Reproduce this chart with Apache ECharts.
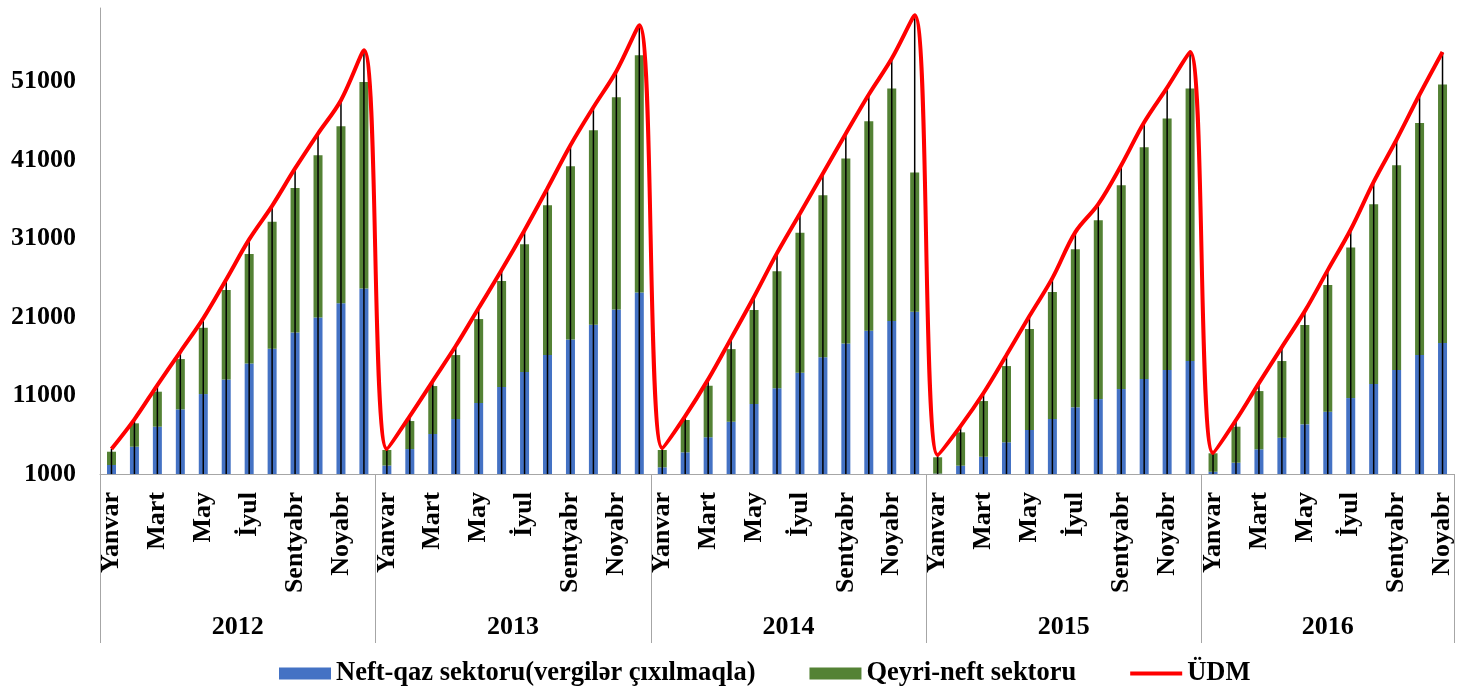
<!DOCTYPE html>
<html>
<head>
<meta charset="utf-8">
<script src="https://cdn.jsdelivr.net/npm/echarts@6/dist/echarts.min.js"></script>
<style>
html,body{margin:0;padding:0;background:#fff;}
#chart{width:1466px;height:689px;}
</style>
</head>
<body>
<div id="chart"></div>
<script>
// ---- data ----
const monthNames = ['Yanvar','Fevral','Mart','Aprel','May','İyun','İyul','Avqust','Sentyabr','Oktyabr','Noyabr','Dekabr'];
const years = ['2012','2013','2014','2015','2016'];
const monthsPerYear = [12,12,12,12,11];

const oilGas = [
  2150,4480,7030,9240,11190,13060,15100,16960,19050,20960,22750,24660,
  2080,4180,6100,8010,10050,12080,13990,16160,18160,20020,21980,24150,
  1850,3760,5680,7660,9920,11920,13900,15870,17650,19260,20490,21680,
  1050,2060,3200,5040,6610,8010,9500,10550,11830,13100,14250,15400,
  1290,2440,4150,5620,7330,8940,10680,12470,14250,16160,17690
];
const nonOil = [
  1690,2980,4460,6410,8450,11380,13930,16180,18420,20680,22590,26320,
  1980,3570,6110,8150,10700,13510,16310,19110,22080,24800,27050,30230,
  2210,4120,6570,9260,11970,14940,17840,20670,23570,26710,29640,17750,
  2080,4250,7100,9720,12860,16180,20160,22810,25990,29560,32060,34730,
  2350,4590,7420,9780,12650,16140,19200,22930,26110,29590,32950
];
const gdp = [
  4190,7970,12340,16580,20840,25800,30900,35180,39950,44400,48650,55020,
  4190,8390,12850,17310,22150,26990,32080,37430,42910,47750,52340,58200,
  4310,8390,13060,18290,23590,29150,34210,39310,44400,49370,53960,59470,
  3420,7110,11320,16160,21130,25970,31830,35400,40360,45840,50260,54800,
  3680,7880,12590,17180,21760,26990,32170,38240,43640,49370,54800
];
const yTicksMin = 1000, yTickStep = 10000, yMax = 60400;

const seriesNames = ['Neft-qaz sektoru(vergilər çıxılmaqla)','Qeyri-neft sektoru','ÜDM'];

// ---- derived ----
const categories = [];
const boundaries = [0];
const yearCenters = [];
let acc = 0;
monthsPerYear.forEach((n, yi) => {
  for (let m = 0; m < n; m++) categories.push(monthNames[m]);
  yearCenters.push(acc + n / 2);
  acc += n;
  boundaries.push(acc);
});
const total = categories.length;

const FONT = "'Liberation Serif','Times New Roman',serif";
const GRAY = '#a6a6a6';

const chart = echarts.init(document.getElementById('chart'));
chart.setOption({
  animation: false,
  backgroundColor: '#fff',
  grid: { left: 100, right: 12, top: 8, bottom: 215, containLabel: false },
  legend: {
    data: [
      { name: seriesNames[0], icon: 'rect' },
      { name: seriesNames[1], icon: 'rect' },
      { name: seriesNames[2], icon: 'path://M0,0 L52,0 L52,4 L0,4 Z', itemStyle: { color: '#FF0000' } }
    ],
    left: 274, top: 655,
    itemWidth: 52, itemHeight: 12, itemGap: 54,
    textStyle: { fontFamily: FONT, fontWeight: 'bold', fontSize: 26.5, color: '#000' }
  },
  xAxis: [
    {
      type: 'category',
      data: categories,
      boundaryGap: true,
      axisLine: { show: true, lineStyle: { color: GRAY, width: 1 } },
      axisTick: { show: false },
      axisLabel: {
        interval: 1, rotate: 90, margin: 18,
        fontFamily: FONT, fontWeight: 'bold', fontSize: 26, color: '#000'
      },
      splitLine: { show: false }
    },
    {
      type: 'value',
      min: 0, max: total,
      position: 'bottom',
      offset: 169,
      axisLine: { show: false },
      splitLine: { show: false },
      axisTick: {
        show: true, inside: true, length: 169,
        customValues: boundaries,
        lineStyle: { color: GRAY, width: 1 }
      },
      axisLabel: {
        show: true, inside: true, margin: 3,
        customValues: yearCenters,
        formatter: function (v) {
          const i = yearCenters.findIndex(c => Math.abs(c - v) < 1e-6);
          return i >= 0 ? years[i] : '';
        },
        fontFamily: FONT, fontWeight: 'bold', fontSize: 26, color: '#000'
      }
    }
  ],
  yAxis: {
    type: 'value',
    min: yTicksMin, max: yMax, interval: yTickStep,
    axisLine: { show: true, lineStyle: { color: GRAY, width: 1 } },
    axisTick: { show: false },
    splitLine: { show: false },
    axisLabel: {
      showMaxLabel: false, margin: 24,
      formatter: function (v) { return String(Math.round(v)); },
      fontFamily: FONT, fontWeight: 'bold', fontSize: 26, color: '#000'
    }
  },
  series: [
    {
      name: seriesNames[0], type: 'bar', stack: 'tot', xAxisIndex: 0,
      data: oilGas, barWidth: 9,
      itemStyle: { color: '#4472C4' }, z: 2
    },
    {
      name: seriesNames[1], type: 'bar', stack: 'tot', xAxisIndex: 0,
      data: nonOil, barWidth: 9,
      itemStyle: { color: '#548235' }, z: 2
    },
    {
      name: 'whisker', type: 'custom', xAxisIndex: 0,
      data: gdp.map((v, i) => [i, v]),
      encode: { x: 0, y: 1 },
      renderItem: function (params, api) {
        const top = api.coord([api.value(0), api.value(1)]);
        const bot = api.coord([api.value(0), yTicksMin]);
        return {
          type: 'line',
          shape: { x1: top[0], y1: top[1], x2: bot[0], y2: bot[1] },
          style: { stroke: '#000', lineWidth: 1.5 }
        };
      },
      z: 3, silent: true
    },
    {
      name: seriesNames[2], type: 'line', xAxisIndex: 0,
      data: gdp, smooth: 0.35, symbol: 'none',
      lineStyle: { color: '#FF0000', width: 4 },
      itemStyle: { color: '#FF0000' }, z: 4
    }
  ]
});
</script>
</body>
</html>
